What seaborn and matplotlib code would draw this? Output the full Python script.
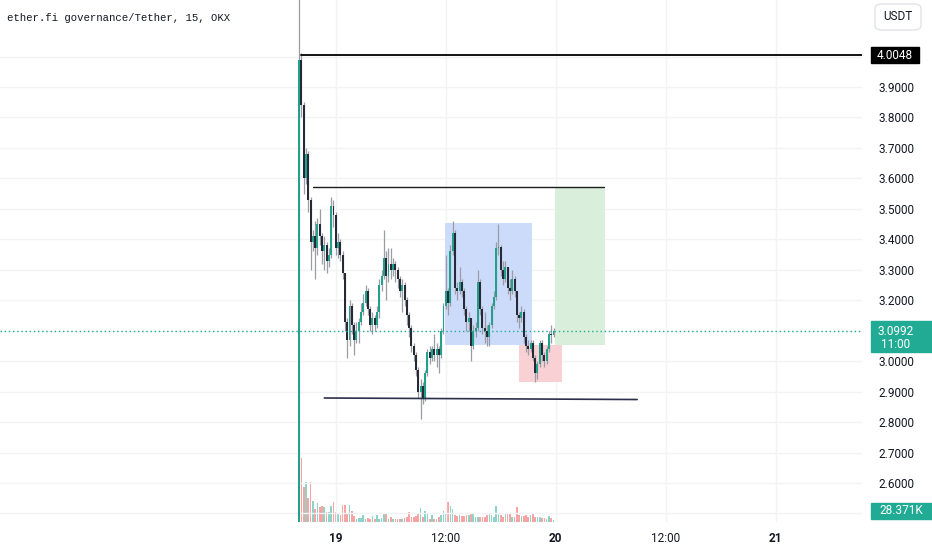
import numpy as np
import pandas as pd
import matplotlib
matplotlib.use("Agg")
import matplotlib.pyplot as plt
import matplotlib.patches as mpatches
import matplotlib.transforms as mtransforms
import seaborn as sns

# 15 minute bars, first bar = 18th 20:00, bar 16 = 19th 00:00
close = [3.99, 3.84, 3.60, 3.68, 3.53, 3.39, 3.41, 3.37, 3.45, 3.41,
         3.36, 3.38, 3.33, 3.35, 3.51, 3.48, 3.37, 3.39, 3.35, 3.29,
         3.13, 3.07, 3.18, 3.12, 3.07, 3.10, 3.13, 3.16, 3.19, 3.23,
         3.17, 3.12, 3.14, 3.12, 3.16, 3.25, 3.28, 3.34, 3.28, 3.32,
         3.30, 3.32, 3.30, 3.27, 3.23, 3.25, 3.20, 3.15, 3.11, 3.05,
         3.02, 2.97, 2.90, 2.92, 2.88, 2.96, 3.03, 3.01, 3.04, 3.02,
         3.04, 3.02, 3.10, 3.18, 3.23, 3.19, 3.36, 3.42, 3.24, 3.23,
         3.26, 3.23, 3.17, 3.13, 3.14, 3.05, 3.10, 3.11, 3.26, 3.17,
         3.11, 3.10, 3.08, 3.12, 3.18, 3.21, 3.37, 3.375, 3.30, 3.27,
         3.31, 3.24, 3.23, 3.27, 3.23, 3.15, 3.14, 3.16, 3.08, 3.05,
         3.04, 3.06, 3.01, 2.96, 2.99, 3.06, 3.02, 3.00, 3.04, 3.09,
         3.085, 3.0992]
high = [4.35, 4.01, 3.85, 3.70, 3.69, 3.54, 3.43, 3.46, 3.47, 3.50,
        3.42, 3.41, 3.39, 3.37, 3.54, 3.53, 3.49, 3.42, 3.40, 3.36,
        3.29, 3.14, 3.20, 3.19, 3.13, 3.13, 3.14, 3.19, 3.22, 3.25,
        3.24, 3.18, 3.16, 3.15, 3.18, 3.27, 3.30, 3.43, 3.36, 3.37,
        3.37, 3.34, 3.33, 3.31, 3.28, 3.27, 3.26, 3.21, 3.16, 3.12,
        3.06, 3.03, 2.98, 2.94, 2.93, 2.97, 3.04, 3.05, 3.05, 3.09,
        3.06, 3.05, 3.11, 3.19, 3.35, 3.24, 3.38, 3.46, 3.43, 3.26,
        3.31, 3.27, 3.24, 3.18, 3.16, 3.14, 3.12, 3.13, 3.30, 3.27,
        3.18, 3.16, 3.12, 3.13, 3.19, 3.23, 3.39, 3.45, 3.38, 3.33,
        3.33, 3.31, 3.27, 3.30, 3.28, 3.23, 3.16, 3.18, 3.17, 3.09,
        3.07, 3.07, 3.07, 3.02, 3.00, 3.07, 3.07, 3.03, 3.05, 3.10,
        3.12, 3.11]
low = [2.20, 3.80, 3.55, 3.58, 3.49, 3.30, 3.36, 3.27, 3.35, 3.38,
       3.32, 3.30, 3.29, 3.31, 3.34, 3.44, 3.35, 3.34, 3.33, 3.27,
       3.10, 3.01, 3.05, 3.09, 3.02, 3.06, 3.06, 3.12, 3.15, 3.18,
       3.15, 3.10, 3.09, 3.10, 3.11, 3.14, 3.23, 3.27, 3.20, 3.26,
       3.27, 3.28, 3.26, 3.24, 3.21, 3.16, 3.18, 3.12, 3.08, 3.03,
       3.00, 2.95, 2.88, 2.81, 2.86, 2.87, 2.95, 2.99, 3.00, 3.00,
       2.98, 2.96, 3.01, 3.09, 3.17, 3.15, 3.18, 3.35, 3.22, 3.20,
       3.22, 3.21, 3.15, 3.10, 3.10, 3.00, 3.04, 3.08, 3.10, 3.15,
       3.09, 3.06, 3.05, 3.05, 3.11, 3.17, 3.20, 3.35, 3.28, 3.25,
       3.26, 3.22, 3.20, 3.22, 3.21, 3.13, 3.11, 3.13, 3.06, 3.03,
       3.02, 3.03, 3.00, 2.93, 2.94, 2.98, 3.00, 2.98, 2.99, 3.03,
       3.06, 3.08]
first_open = 2.20
# volume in thousands
volume = [2600, 892, 495, 556, 332, 565, 294, 182, 271, 205,
          224, 205, 145, 145, 224, 285, 145, 121, 98, 233,
          233, 121, 233, 154, 84, 47, 51, 51, 93, 47,
          56, 37, 84, 47, 98, 47, 56, 121, 112, 47,
          65, 47, 37, 47, 37, 37, 56, 65, 140, 75,
          75, 84, 131, 191, 75, 154, 121, 47, 98, 37,
          37, 65, 98, 159, 112, 280, 224, 177, 98, 84,
          98, 84, 84, 93, 93, 121, 112, 75, 65, 65,
          65, 65, 103, 121, 103, 75, 219, 131, 93, 75,
          112, 112, 117, 75, 65, 205, 103, 84, 84, 93,
          75, 93, 112, 75, 70, 70, 56, 56, 47, 84,
          56, 28.371]

tick_pos = [16, 64, 112, 160, 208]
tick_labels = ["19", "12:00", "20", "12:00", "21"]

# drawings
top_level = 4.0048
resistance = 3.572
support_left, support_right = 2.879, 2.874
blue_box = (63.5, 101.4, 3.053, 3.4535)
red_box = (96.1, 114.7, 2.932, 3.053)
green_box = (111.7, 133.6, 3.053, 3.572)
last_price = 3.0992

df = pd.DataFrame({"close": close, "high": high, "low": low, "volume": volume})
df["open"] = [first_open] + close[:-1]
df["i"] = np.arange(len(df))
df["up"] = df["close"] >= df["open"]

sns.set_theme(style="white")
plt.rcParams["font.family"] = ["Roboto", "DejaVu Sans"]

UP = "#22a08c"
DOWN = "#262a36"
TXT = "#131722"
GRID = "#f2f3f5"

fig = plt.figure(figsize=(9.32, 5.5), dpi=100)
ax = fig.add_axes([0, 28 / 550, 862 / 932, 522 / 550])
vax = ax.twinx()
ax.set_zorder(vax.get_zorder() + 1)
ax.patch.set_visible(False)

# volume
vol_colors = np.where(df["up"], "#8dd4c8", "#f8a4a4")
vol_colors[0] = "#4f9e93"
vax.bar(df["i"], df["volume"], width=0.72, color=vol_colors, linewidth=0)
vax.set_ylim(0, 7300)
vax.set_yticks([])
for s in vax.spines.values():
    s.set_visible(False)

# grid
for p in np.arange(2.5, 4.05, 0.1):
    ax.axhline(p, color=GRID, lw=1, zorder=0)
for t in tick_pos:
    ax.axvline(t, color=GRID, lw=1, zorder=0)

# boxes
for (x0, x1, y0, y1), col in [(blue_box, "#cddbfb"), (red_box, "#f9d0d4"), (green_box, "#d9efdb")]:
    ax.add_patch(mpatches.Rectangle((x0, y0), x1 - x0, y1 - y0, color=col, lw=0, zorder=1))

# candles
ax.vlines(df["i"], df["low"], df["high"], colors="#9a9da6", lw=0.9, zorder=3)
body_bottom = df[["open", "close"]].min(axis=1)
body_h = (df["close"] - df["open"]).abs().clip(lower=0.004)
ax.bar(df["i"], body_h, bottom=body_bottom, width=0.85,
       color=np.where(df["up"], UP, DOWN), linewidth=0, zorder=4)

# horizontal lines
ax.plot([1, 400], [top_level, top_level], color="#000000", lw=1.3, zorder=5)
ax.plot([6, 133], [resistance, resistance], color="#1e1e1e", lw=1.0, zorder=5)
ax.plot([11, 147.5], [support_left, support_right], color="#2b2f4a", lw=1.2, zorder=5)
ax.axhline(last_price, color="#22ab94", lw=1, ls=(0, (1, 2)), zorder=5)

ax.set_xlim(-130.5, 245.6)
ax.set_ylim(2.4719, 4.1856)

# axes
yt = np.round(np.arange(2.5, 4.05, 0.1), 1)
ax.yaxis.tick_right()
ax.set_yticks(yt)
ax.set_yticklabels(["" if v in (2.5, 3.1, 4.0) else f"{v:.4f}" for v in yt])
ax.tick_params(axis="y", length=0, pad=12, labelsize=8.5, labelcolor=TXT)
ax.set_xticks(tick_pos)
ax.set_xticklabels(tick_labels)
ax.tick_params(axis="x", length=0, pad=7, labelsize=8.5, labelcolor=TXT)
for lab in ax.get_xticklabels():
    if ":" not in lab.get_text():
        lab.set_fontweight("bold")
for s in ax.spines.values():
    s.set_visible(False)

# price tags on the scale
tr = mtransforms.blended_transform_factory(fig.transFigure, ax.transData)
px = 0.1 / 30.46
ax.add_patch(mpatches.Rectangle((871 / 932, top_level - 8 * px), 48 / 932, 16 * px,
                                transform=tr, color="#000000", clip_on=False, zorder=6))
ax.text(895 / 932, top_level, "4.0048", transform=tr, color="white", fontsize=8.5,
        ha="center", va="center", zorder=7)
ax.add_patch(mpatches.Rectangle((871 / 932, last_price - 21 * px), 61 / 932, 31 * px,
                                transform=tr, color="#22ab94", clip_on=False, zorder=6))
ax.text(896 / 932, last_price - 1 * px, "3.0992", transform=tr, color="white", fontsize=8.5,
        ha="center", va="center", zorder=7)
ax.text(896 / 932, last_price - 14 * px, "11:00", transform=tr, color="white", fontsize=8.5,
        ha="center", va="center", zorder=7)
fig.patches.append(mpatches.Rectangle((871 / 932, 31 / 550), 61 / 932, 16 / 550,
                                      transform=fig.transFigure, color="#22ab94"))
fig.text(901 / 932, 39 / 550, "28.371K", color="white", fontsize=8.5, ha="center", va="center")

# currency button
fig.patches.append(mpatches.FancyBboxPatch((875 / 932, 520 / 550), 46 / 932, 26 / 550,
                                           boxstyle="round,pad=0,rounding_size=0.008",
                                           transform=fig.transFigure, facecolor="white",
                                           edgecolor="#e0e3eb", lw=1))
fig.text(898 / 932, 533 / 550, "USDT", color=TXT, fontsize=8.5, ha="center", va="center")

fig.text(7 / 932, 532 / 550, "ether.fi governance/Tether, 15, OKX", color=TXT,
         fontsize=7.7, family=["Liberation Mono", "DejaVu Sans"], ha="left", va="center")

fig.savefig("out.png", dpi=100, facecolor="white")
